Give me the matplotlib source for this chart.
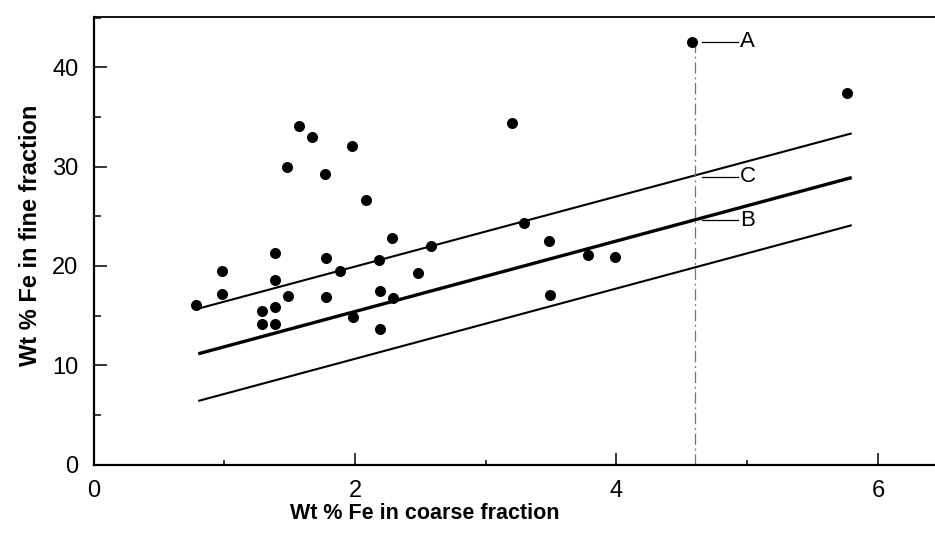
import numpy as np
import matplotlib.pyplot as plt
from matplotlib.ticker import MultipleLocator

plt.rcParams['font.family'] = ['Liberation Sans', 'DejaVu Sans']

# Wt % Fe, coarse vs fine fraction
coarse = [0.78, 0.985, 0.985, 1.29, 1.29, 1.39, 1.39, 1.39, 1.39, 1.48,
          1.49, 1.57, 1.67, 1.77, 1.78, 1.78, 1.885, 1.975, 1.985, 2.08,
          2.18, 2.19, 2.19, 2.28, 2.29, 2.48, 2.58, 3.20, 3.29, 3.48,
          3.49, 3.785, 3.99, 4.58, 5.765]
fine = [16.1, 19.5, 17.2, 15.5, 14.2, 21.3, 18.6, 15.85, 14.2, 30.0,
        17.0, 34.1, 33.0, 29.25, 20.75, 16.9, 19.5, 32.1, 14.9, 26.6,
        20.6, 17.5, 13.6, 22.8, 16.8, 19.25, 22.05, 34.4, 24.3, 22.5,
        17.1, 21.1, 20.9, 42.6, 37.45]

# fitted line (B) and its bounds (C = upper)
line_x = [0.8, 5.8]
line_mid = [11.15, 28.9]
line_upper = [15.7, 33.35]
line_lower = [6.4, 24.1]

# point A and the labels on the right
point_a_x = 4.6
labels = ['A', 'C', 'B']
label_y = [42.6, 29.0, 24.6]

fig = plt.figure(figsize=(9.35, 5.44), dpi=100)
ax = fig.add_axes([0.1002, 0.1461, 0.8998, 0.8227])

ax.plot(line_x, line_upper, color='black', lw=1.5, solid_capstyle='butt')
ax.plot(line_x, line_mid, color='black', lw=2.4, solid_capstyle='butt')
ax.plot(line_x, line_lower, color='black', lw=1.5, solid_capstyle='butt')

# dash-dot drop line under point A
ax.plot([point_a_x, point_a_x], [0, fine[33]], color='0.45', lw=0.9,
        linestyle=(0, (9, 3, 1.5, 3)))

ax.scatter(coarse, fine, s=48, color='black', zorder=3)

for lab, yy in zip(labels, label_y):
    ax.plot([4.655, 4.93], [yy, yy], color='black', lw=0.9)
    ax.text(4.945, yy, lab, fontsize=16, va='center', ha='left')

ax.set_xlim(0, 6.437)
ax.set_ylim(0, 45.07)
ax.xaxis.set_major_locator(MultipleLocator(2))
ax.xaxis.set_minor_locator(MultipleLocator(1))
ax.yaxis.set_major_locator(MultipleLocator(10))
ax.yaxis.set_minor_locator(MultipleLocator(5))

ax.tick_params(axis='both', which='both', direction='in', width=1.1,
               labelsize=17)
ax.tick_params(axis='x', which='major', length=8.5, pad=11)
ax.tick_params(axis='x', which='minor', length=3.5)
ax.tick_params(axis='y', which='major', length=9.5, pad=11)
ax.tick_params(axis='y', which='minor', length=5)

ax.spines['right'].set_visible(False)
ax.spines['left'].set_linewidth(1.6)
ax.spines['bottom'].set_linewidth(1.6)
ax.spines['top'].set_linewidth(1.3)

ax.set_xlabel('Wt % Fe in coarse fraction', fontsize=15.5, fontweight='bold')
ax.set_ylabel('Wt % Fe in fine fraction', fontsize=17, fontweight='bold')
ax.xaxis.set_label_coords(0.394, -0.086)
ax.yaxis.set_label_coords(-0.062, 0.513)
ax.xaxis.label.set_va('top')

fig.savefig('out.png', dpi=100)
